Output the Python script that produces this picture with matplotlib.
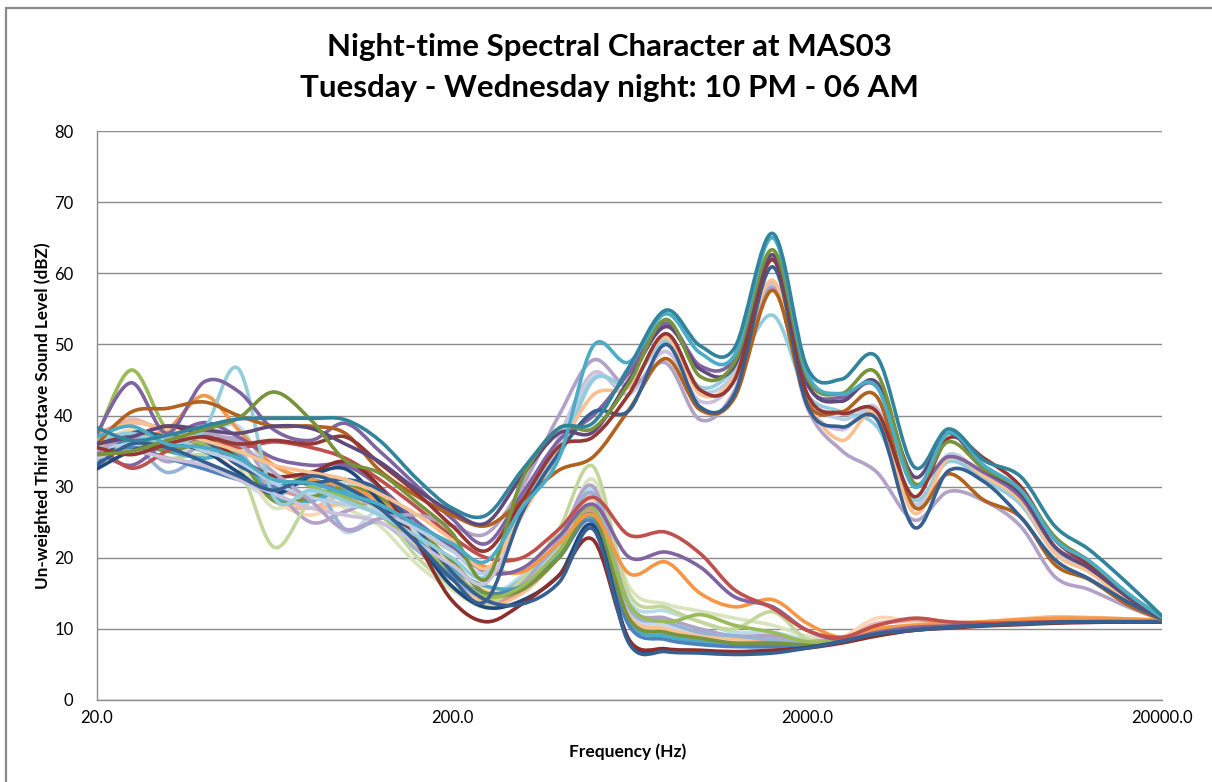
"""
Night-time third-octave spectra at MAS03, one smoothed line per interval.
"""

import numpy as np
import matplotlib
matplotlib.use('Agg')
import matplotlib.pyplot as plt
from matplotlib.path import Path
from matplotlib.patches import PathPatch, Rectangle
from matplotlib.ticker import FixedLocator, FixedFormatter, NullLocator

# third-octave band centres (Hz)
FREQ = [20, 25, 31.5, 40, 50, 63, 80, 100, 125, 160, 200, 250, 315, 400,
        500, 630, 800, 1000, 1250, 1600, 2000, 2500, 3150, 4000, 5000,
        6300, 8000, 10000, 12500, 16000, 20000]

# --- intervals with the 1.6 kHz tone (dBZ) ---
H_TEAL = [38.3, 36.5, 37.2, 38.5, 39.5, 39.6, 39.6, 39.4, 36.5, 31.0, 27.0, 26.0, 32.3, 38.2, 39.0, 46.8,
          54.8, 49.8, 49.5, 65.6, 46.8, 45.1, 48.2, 32.8, 38.1, 33.7, 31.4, 24.4, 21.1, 16.4, 11.8]
H_AQUA = [37.0, 38.5, 36.0, 35.5, 34.0, 31.0, 30.5, 29.0, 27.5, 24.5, 22.0, 19.5, 27.0, 34.0, 49.8, 47.5,
          54.3, 48.8, 48.5, 65.0, 46.0, 43.0, 44.0, 30.0, 37.5, 33.0, 29.5, 22.5, 19.5, 15.0, 11.6]
H_OLIVE = [34.5, 35.0, 36.5, 38.0, 39.6, 43.3, 39.4, 33.7, 31.9, 27.7, 23.5, 17.0, 31.0, 38.2, 38.2, 44.5,
           53.5, 45.5, 47.5, 63.3, 45.4, 43.1, 45.9, 30.5, 36.3, 32.5, 29.5, 22.9, 19.5, 15.0, 11.6]
H_DPURPLE = [36.0, 37.0, 38.5, 38.0, 37.5, 38.5, 38.2, 36.0, 33.5, 29.5, 26.5, 24.9, 31.5, 37.5, 37.7, 45.0,
             52.5, 46.5, 47.0, 62.6, 44.6, 42.0, 44.6, 31.4, 37.5, 32.5, 29.0, 21.5, 18.5, 14.5, 11.5]
H_DRED = [35.5, 34.5, 36.0, 37.0, 36.0, 36.5, 36.0, 37.0, 33.3, 29.0, 24.5, 21.0, 28.0, 35.6, 37.0, 43.0,
          51.5, 43.6, 45.0, 61.9, 43.1, 40.3, 40.5, 28.6, 36.8, 34.0, 30.0, 22.5, 19.0, 14.5, 11.5]
H_NAVY = [33.0, 36.0, 35.5, 33.5, 31.5, 29.5, 31.5, 30.0, 27.0, 22.0, 17.0, 14.0, 26.3, 34.7, 40.5, 40.7,
          50.0, 41.2, 43.0, 60.9, 41.5, 38.4, 39.4, 24.3, 32.2, 30.7, 25.7, 19.7, 17.0, 13.8, 11.4]
H_BROWN = [36.0, 40.5, 41.0, 41.9, 40.0, 38.5, 38.5, 37.5, 32.3, 28.6, 26.0, 24.5, 28.0, 32.3, 34.2, 40.8,
           48.0, 40.8, 42.5, 57.6, 41.9, 40.5, 42.6, 27.2, 31.8, 28.1, 25.7, 19.0, 16.9, 13.4, 11.3]
H_PEACH = [37.0, 39.0, 38.0, 36.5, 35.0, 33.0, 32.0, 31.0, 29.0, 26.0, 22.5, 18.5, 26.0, 35.0, 42.9, 44.0,
           51.0, 43.0, 45.5, 59.0, 42.5, 36.5, 40.3, 26.3, 34.0, 31.5, 28.0, 20.6, 18.0, 14.0, 11.4]
H_LAQUA = [36.5, 37.5, 36.0, 38.0, 46.6, 28.5, 29.5, 28.0, 26.0, 23.0, 20.0, 17.5, 28.5, 34.2, 45.0, 44.5,
           50.5, 44.0, 46.5, 54.1, 43.0, 40.5, 38.4, 28.1, 33.5, 31.0, 27.5, 20.6, 18.0, 14.0, 11.4]
H_LAVENDER = [35.0, 37.0, 36.0, 37.5, 36.0, 32.0, 28.0, 24.0, 25.5, 26.0, 24.5, 23.4, 30.0, 40.0, 47.8, 44.0,
              47.4, 39.4, 43.5, 58.0, 41.2, 35.1, 32.0, 25.3, 29.3, 28.0, 24.4, 17.3, 15.5, 13.1, 11.3]
H_LLAVENDER = [34.0, 35.0, 34.0, 33.0, 31.0, 29.0, 27.0, 26.0, 25.0, 22.0, 19.0, 16.5, 26.0, 37.0, 46.0, 43.0,
               49.0, 42.0, 45.0, 58.5, 42.0, 38.0, 41.0, 27.0, 34.0, 31.0, 27.5, 21.0, 18.5, 14.5, 11.5]
H_LBLUE = [35.5, 36.0, 37.0, 35.0, 33.5, 30.5, 28.5, 27.5, 26.5, 24.0, 21.0, 18.0, 27.5, 36.0, 45.3, 44.5,
           50.0, 43.5, 46.0, 58.1, 43.0, 39.5, 40.0, 27.5, 34.5, 31.5, 28.5, 21.0, 18.5, 14.5, 11.5]
H_PURPLE = [37.5, 44.6, 37.5, 44.7, 43.4, 38.0, 36.5, 38.9, 35.0, 30.0, 25.5, 22.0, 29.0, 36.5, 40.0, 46.0,
            53.0, 47.0, 48.0, 62.0, 44.5, 42.5, 44.0, 30.5, 34.2, 32.0, 28.5, 21.5, 19.0, 14.5, 11.5]

# --- quiet intervals (dBZ) ---
L_RED = [36.0, 32.6, 35.0, 37.0, 35.5, 36.3, 35.5, 34.0, 31.0, 27.0, 23.0, 20.0, 20.0, 24.0, 28.5, 23.2,
         23.6, 20.6, 15.5, 12.9, 9.8, 8.8, 10.5, 11.5, 11.0, 10.8, 10.9, 11.0, 11.0, 11.0, 11.0]
L_PURPLE = [35.0, 33.0, 36.5, 39.0, 37.0, 34.0, 33.0, 33.0, 30.0, 25.0, 21.5, 18.0, 18.5, 23.0, 27.5, 20.1,
            20.8, 18.7, 14.5, 13.1, 9.8, 8.5, 9.5, 10.2, 10.4, 10.6, 10.8, 10.9, 11.0, 11.0, 11.0]
L_ORANGE = [35.5, 37.0, 38.0, 42.8, 38.0, 33.0, 31.0, 30.0, 28.0, 24.0, 21.0, 18.7, 18.0, 22.0, 26.0, 17.8,
            19.4, 15.0, 13.1, 14.1, 10.8, 8.8, 10.0, 10.5, 10.8, 11.0, 11.3, 11.5, 11.5, 11.4, 11.2]
L_GREEN = [37.0, 46.4, 38.0, 36.0, 35.0, 33.0, 30.0, 28.5, 26.0, 22.0, 18.0, 14.5, 16.0, 21.0, 27.0, 13.5,
           11.0, 12.0, 10.5, 9.5, 8.2, 8.4, 9.5, 10.0, 10.2, 10.5, 10.7, 10.9, 11.0, 11.0, 11.0]
L_LGREEN = [34.0, 36.0, 34.0, 34.5, 33.0, 21.5, 28.0, 29.0, 26.5, 20.0, 16.0, 13.5, 17.0, 24.0, 32.8, 15.0,
            13.0, 11.0, 10.0, 12.4, 8.5, 8.3, 9.3, 10.0, 10.2, 10.5, 10.8, 11.0, 11.0, 11.0, 11.0]
L_MAROON = [36.5, 37.0, 38.5, 37.0, 34.0, 31.5, 32.0, 33.5, 30.0, 22.0, 14.0, 11.0, 13.5, 17.5, 22.5, 8.5,
            7.2, 7.0, 6.8, 7.0, 7.3, 8.0, 9.0, 9.8, 10.1, 10.4, 10.6, 10.8, 10.9, 11.0, 11.0]
L_NAVY = [33.0, 37.5, 37.0, 36.5, 33.0, 31.0, 30.5, 31.0, 29.5, 24.0, 18.0, 14.0, 13.5, 16.5, 24.0, 8.0,
          6.8, 6.6, 6.4, 6.6, 7.3, 8.2, 9.3, 9.8, 10.2, 10.5, 10.7, 10.9, 11.0, 11.0, 11.0]
L_BLUE = [34.0, 35.5, 34.0, 32.5, 31.0, 30.0, 31.0, 29.0, 27.0, 22.0, 17.5, 15.0, 16.0, 20.0, 25.0, 10.5,
          8.5, 7.8, 7.5, 7.5, 7.6, 8.3, 9.3, 10.0, 10.3, 10.6, 10.8, 11.0, 11.0, 11.0, 11.0]
L_LBLUE = [33.5, 36.0, 32.0, 34.5, 35.0, 29.0, 31.0, 24.0, 25.0, 21.0, 17.0, 14.5, 17.0, 22.0, 29.0, 13.0,
           11.0, 9.5, 9.0, 8.5, 8.0, 8.5, 9.4, 10.0, 10.3, 10.6, 10.8, 11.0, 11.0, 11.0, 11.0]
L_PEACH = [36.0, 38.0, 37.0, 35.5, 32.0, 28.0, 26.0, 28.0, 27.0, 23.0, 19.0, 15.5, 16.5, 21.0, 28.0, 12.0,
           10.0, 9.0, 8.5, 8.8, 8.4, 8.8, 11.5, 11.0, 10.6, 10.8, 11.2, 11.4, 11.5, 11.3, 11.1]
L_PINK = [37.5, 39.0, 38.0, 36.0, 34.0, 30.0, 28.5, 29.5, 28.0, 22.5, 18.5, 14.0, 15.5, 20.5, 26.5, 11.5,
          9.5, 8.5, 8.0, 8.2, 8.2, 8.6, 10.5, 11.3, 10.7, 10.8, 11.0, 11.2, 11.3, 11.2, 11.1]
L_LORANGE = [35.0, 36.5, 36.0, 38.0, 35.0, 29.0, 27.0, 27.5, 26.0, 21.5, 17.5, 13.5, 15.0, 20.0, 26.0, 12.0,
             10.0, 9.0, 8.6, 8.4, 8.0, 8.6, 10.0, 10.5, 10.6, 11.0, 11.4, 11.7, 11.6, 11.4, 11.2]
L_LAVENDER = [35.5, 37.0, 33.5, 36.0, 36.5, 30.0, 25.0, 26.5, 27.5, 21.5, 17.0, 14.5, 16.5, 22.5, 30.0, 13.5,
              11.5, 10.0, 9.0, 9.0, 8.3, 8.5, 9.5, 10.0, 10.3, 10.6, 10.8, 11.0, 11.0, 11.0, 11.0]
L_LAQUA = [34.5, 35.0, 36.5, 37.0, 38.5, 31.0, 29.0, 30.5, 29.0, 23.5, 19.5, 15.0, 17.5, 23.0, 29.5, 14.0,
           12.5, 11.0, 9.5, 9.5, 8.5, 8.5, 9.5, 10.0, 10.3, 10.6, 10.8, 11.0, 11.0, 11.0, 11.0]
L_PALEGREEN = [36.0, 35.0, 35.5, 35.0, 33.5, 27.0, 29.5, 27.0, 24.5, 19.0, 15.5, 13.0, 15.5, 21.5, 31.0, 16.0,
               13.5, 12.5, 11.5, 10.5, 9.0, 8.6, 9.4, 10.0, 10.2, 10.5, 10.8, 11.0, 11.0, 11.0, 11.0]
L_DBLUE = [32.5, 35.0, 36.0, 35.0, 32.0, 29.0, 31.5, 32.5, 28.0, 22.0, 16.0, 13.0, 14.0, 17.5, 24.5, 8.5,
           7.0, 6.8, 6.7, 6.9, 7.4, 8.2, 9.2, 9.8, 10.2, 10.5, 10.7, 10.9, 11.0, 11.0, 11.0]
L_AQUA = [35.0, 36.5, 35.0, 34.0, 34.5, 28.5, 28.0, 29.5, 27.0, 22.5, 18.5, 16.0, 16.0, 20.5, 25.5, 11.0,
          9.0, 8.2, 7.8, 7.6, 7.5, 8.2, 9.3, 10.0, 10.3, 10.6, 10.8, 11.0, 11.0, 11.0, 11.0]
L_LPINK = [37.0, 39.5, 37.5, 37.0, 34.5, 28.0, 27.0, 29.0, 27.5, 22.5, 18.0, 14.5, 16.0, 22.0, 28.5, 12.5,
           10.5, 9.5, 9.0, 8.8, 8.4, 8.8, 10.8, 11.0, 10.6, 10.8, 11.2, 11.5, 11.5, 11.3, 11.1]
L_DGREEN = [36.0, 36.5, 35.0, 36.0, 34.0, 28.0, 28.5, 30.0, 28.5, 24.0, 19.5, 15.0, 15.5, 20.0, 26.0, 11.5,
            9.5, 8.7, 8.0, 8.0, 7.8, 8.3, 9.3, 10.0, 10.3, 10.6, 10.8, 11.0, 11.0, 11.0, 11.0]
L_PALEBLUE = [35.0, 36.0, 36.5, 33.5, 31.0, 28.5, 30.5, 23.6, 26.5, 22.0, 18.0, 14.5, 16.0, 21.5, 28.0, 12.5,
              10.5, 9.0, 8.6, 9.0, 8.2, 8.5, 9.5, 10.0, 10.3, 10.6, 10.8, 11.0, 11.0, 11.0, 11.0]

# draw order: quiet intervals underneath, tonal ones on top
SERIES = [
    (L_PALEGREEN, '#D7E4BD'), (L_LPINK, '#E6B9B8'), (L_PALEBLUE, '#C6D9F1'),
    (L_LAQUA, '#B7DEE8'), (L_PEACH, '#FCD5B5'), (L_LAVENDER, '#B3A2C7'),
    (L_LORANGE, '#FAC090'), (L_PINK, '#D99694'), (L_LBLUE, '#95B3D7'),
    (L_LGREEN, '#C3D69B'), (L_AQUA, '#4BACC6'), (L_BLUE, '#4F81BD'),
    (L_DGREEN, '#77933C'), (L_GREEN, '#9BBB59'), (L_ORANGE, '#F79646'),
    (L_PURPLE, '#8064A2'), (L_RED, '#C0504D'), (L_DBLUE, '#1F497D'),
    (L_MAROON, '#8B2E2C'), (L_NAVY, '#376092'),
    (H_LLAVENDER, '#CCC1DA'), (H_LBLUE, '#B9CDE5'), (H_LAVENDER, '#B3A2C7'),
    (H_LAQUA, '#93CDDD'), (H_PEACH, '#FAC090'), (H_PURPLE, '#8064A2'),
    (H_BROWN, '#B0621E'), (H_NAVY, '#376092'), (H_DRED, '#953735'),
    (H_DPURPLE, '#604A7B'), (H_OLIVE, '#77933C'), (H_AQUA, '#4BACC6'),
    (H_TEAL, '#31849B'),
]

FONT = ['Lato', 'DejaVu Sans']
GRID = '#8C8C8C'


def smooth_path(freq, level):
    """Excel-style smoothed line: cubic Bezier segments in log-frequency space."""
    u = np.log10(np.asarray(freq, dtype=float))
    y = np.asarray(level, dtype=float)
    pts = np.column_stack([u, y])
    n = len(pts)
    verts = [pts[0]]
    codes = [Path.MOVETO]
    for i in range(n - 1):
        p0 = pts[max(i - 1, 0)]
        p1 = pts[i]
        p2 = pts[i + 1]
        p3 = pts[min(i + 2, n - 1)]
        c1 = p1 + (p2 - p0) / 6.0
        c2 = p2 - (p3 - p1) / 6.0
        verts += [c1, c2, p2]
        codes += [Path.CURVE4] * 3
    verts = np.array(verts)
    verts[:, 0] = 10 ** verts[:, 0]
    return Path(verts, codes)


fig = plt.figure(figsize=(12.12, 7.82), dpi=100)
ax = fig.add_axes([97 / 1212, 82 / 782, 1065 / 1212, 569 / 782])

# chart-area frame (only the left and top edges fall inside the picture)
fig.patches.append(Rectangle((6 / 1212, -0.1), 1.2, (782 - 8) / 782 + 0.1,
                             transform=fig.transFigure, fill=False,
                             edgecolor='#8A8A8A', linewidth=1.6, zorder=0))

ax.set_xscale('log')
ax.set_xlim(20, 20000)
ax.set_ylim(0, 80)

for level, color in SERIES:
    ax.add_patch(PathPatch(smooth_path(FREQ, level), fill=False,
                           edgecolor=color, linewidth=2.6,
                           capstyle='round', joinstyle='round', zorder=3))

ax.set_yticks(range(0, 81, 10))
ax.yaxis.grid(True, color=GRID, linewidth=1.0)
ax.set_axisbelow(True)
ax.xaxis.set_major_locator(FixedLocator([20, 200, 2000, 20000]))
ax.xaxis.set_major_formatter(FixedFormatter(['20.0', '200.0', '2000.0', '20000.0']))
ax.xaxis.set_minor_locator(NullLocator())
ax.tick_params(axis='both', length=0, labelsize=12, colors='black')
ax.tick_params(axis='y', pad=17)
ax.tick_params(axis='x', pad=7)
for lab in ax.get_xticklabels() + ax.get_yticklabels():
    lab.set_family(FONT)

for side in ('top', 'right'):
    ax.spines[side].set_visible(False)
for side in ('left', 'bottom'):
    ax.spines[side].set_color(GRID)
    ax.spines[side].set_linewidth(1.0)

fig.text(0.503, 0.940, 'Night-time Spectral Character at MAS03',
         ha='center', va='center', fontsize=22.5, fontweight='bold', family=FONT)
fig.text(0.503, 0.8875, 'Tuesday - Wednesday night: 10 PM - 06 AM',
         ha='center', va='center', fontsize=22.5, fontweight='bold', family=FONT)
fig.text(0.0355, 0.469, 'Un-weighted Third Octave Sound Level (dBZ)',
         ha='center', va='center', rotation=90, fontsize=12.3, fontweight='bold',
         family=FONT)
fig.text(0.518, 0.0384, 'Frequency (Hz)', ha='center', va='center',
         fontsize=12.5, fontweight='bold', family=FONT)

fig.savefig('out.png', dpi=100)
